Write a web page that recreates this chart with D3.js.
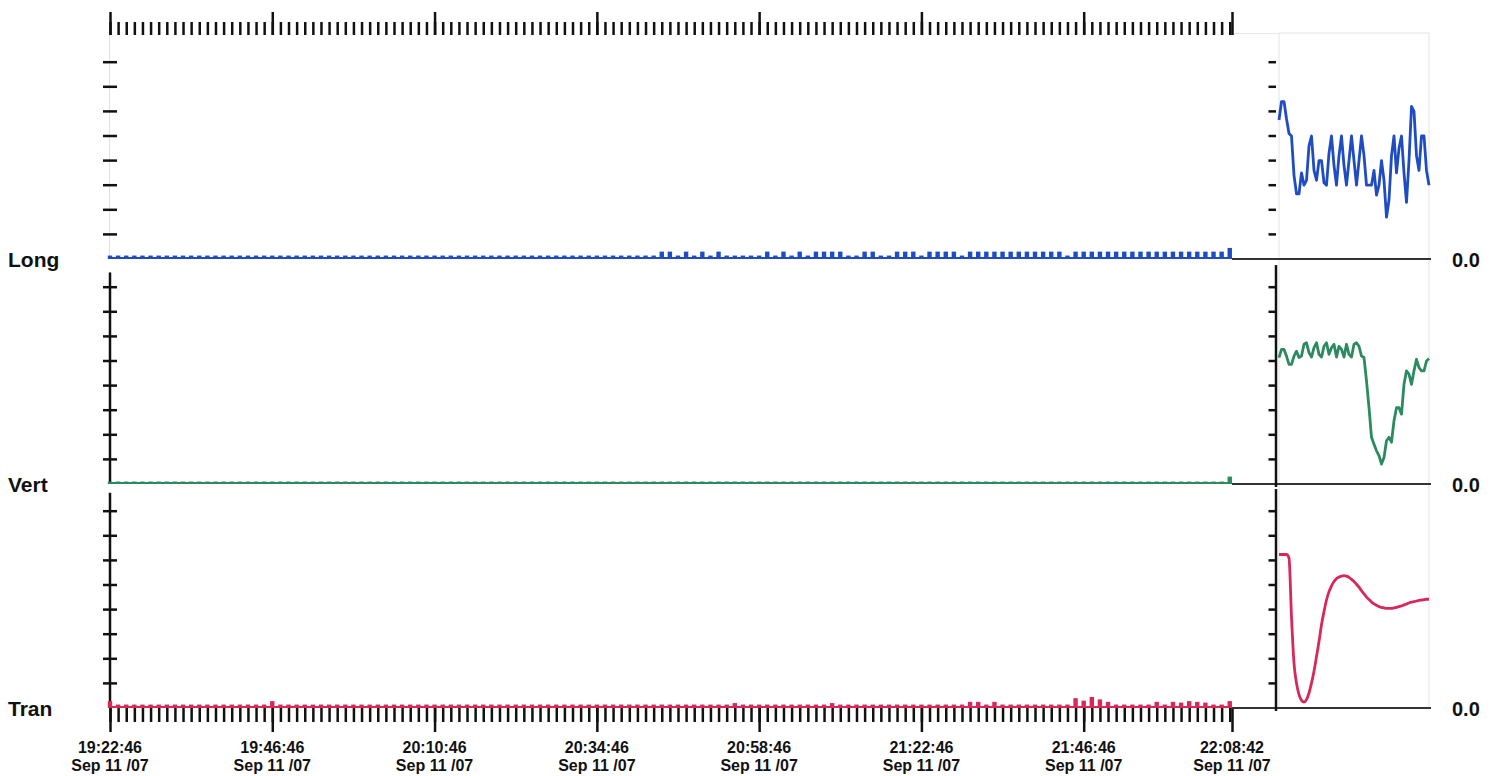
<!DOCTYPE html>
<html><head><meta charset="utf-8">
<script src="https://cdn.jsdelivr.net/npm/d3@7"></script>
<style>
body{margin:0;background:#fff;}
svg{display:block;}
text{font-family:"Liberation Sans",Arial,sans-serif;font-weight:bold;fill:#111;}
</style>
</head><body>
<svg id="chart" width="1500" height="776"></svg>
<script>
// ---------- data ----------
const majorTimeLabels = ["19:22:46","19:46:46","20:10:46","20:34:46","20:58:46","21:22:46","21:46:46","22:08:42"];
const dateLabel = "Sep 11 /07";
const seriesNames = ["Long","Vert","Tran"];
const seriesColors = ["#1f4cc2","#2b8a60","#d8285a"];
const zeroLabel = "0.0";
const barIntervalSeconds = 72;
const yTickValues = [1,2,3,4,5,6,7,8];

const longBars = [
0.14,0.14,0.14,0.14,0.14,0.14,0.14,0.14,0.14,0.14,0.14,0.14,0.14,0.14,0.14,0.14,0.14,0.14,0.14,0.14,
0.14,0.14,0.14,0.14,0.14,0.14,0.14,0.14,0.14,0.14,0.14,0.14,0.14,0.14,0.14,0.14,0.14,0.14,0.14,0.14,
0.14,0.14,0.14,0.14,0.14,0.14,0.14,0.14,0.14,0.14,0.14,0.14,0.14,0.14,0.14,0.14,0.14,0.14,0.14,0.14,
0.14,0.14,0.14,0.14,0.14,0.14,0.14,0.14,0.3,0.3,0.14,0.3,0.14,0.3,0.14,0.3,0.14,0.14,0.14,0.14,
0.14,0.3,0.14,0.3,0.14,0.3,0.14,0.3,0.3,0.3,0.3,0.14,0.14,0.3,0.3,0.14,0.14,0.3,0.3,0.3,
0.14,0.3,0.3,0.3,0.3,0.14,0.3,0.3,0.3,0.3,0.3,0.3,0.3,0.3,0.3,0.3,0.3,0.3,0.14,0.3,
0.3,0.3,0.3,0.3,0.3,0.3,0.3,0.3,0.3,0.3,0.3,0.3,0.3,0.3,0.3,0.3,0.3,0.3,0.45];

const vertBars = [
0.1,0.1,0.1,0.1,0.1,0.1,0.1,0.1,0.1,0.1,0.1,0.1,0.1,0.1,0.1,0.1,0.1,0.1,0.1,0.1,
0.1,0.1,0.1,0.1,0.1,0.1,0.1,0.1,0.1,0.1,0.1,0.1,0.1,0.1,0.1,0.1,0.1,0.1,0.1,0.1,
0.1,0.1,0.1,0.1,0.1,0.1,0.1,0.1,0.1,0.1,0.1,0.1,0.1,0.1,0.1,0.1,0.1,0.1,0.1,0.1,
0.1,0.1,0.1,0.1,0.1,0.1,0.1,0.1,0.1,0.1,0.1,0.1,0.1,0.1,0.1,0.1,0.1,0.1,0.1,0.1,
0.1,0.1,0.1,0.1,0.1,0.1,0.1,0.1,0.1,0.1,0.1,0.1,0.1,0.1,0.1,0.1,0.1,0.1,0.1,0.1,
0.1,0.1,0.1,0.1,0.1,0.1,0.1,0.1,0.1,0.1,0.1,0.1,0.1,0.1,0.1,0.1,0.1,0.1,0.1,0.1,
0.1,0.1,0.1,0.1,0.1,0.1,0.1,0.1,0.1,0.1,0.1,0.1,0.1,0.1,0.1,0.1,0.1,0.1,0.3];

const tranBars = [
0.28,0.14,0.14,0.14,0.14,0.14,0.14,0.14,0.14,0.14,0.14,0.14,0.14,0.14,0.14,0.14,0.14,0.14,0.14,0.14,
0.28,0.14,0.14,0.14,0.14,0.14,0.14,0.14,0.14,0.14,0.14,0.14,0.14,0.14,0.14,0.14,0.14,0.14,0.14,0.14,
0.14,0.14,0.14,0.14,0.14,0.14,0.14,0.14,0.14,0.14,0.14,0.14,0.14,0.14,0.14,0.14,0.14,0.14,0.14,0.14,
0.14,0.14,0.14,0.14,0.14,0.14,0.14,0.14,0.14,0.14,0.14,0.14,0.14,0.14,0.14,0.14,0.14,0.2,0.14,0.14,
0.14,0.14,0.14,0.14,0.14,0.14,0.14,0.14,0.14,0.2,0.14,0.14,0.14,0.14,0.14,0.14,0.14,0.14,0.14,0.14,
0.14,0.14,0.14,0.14,0.14,0.14,0.25,0.25,0.14,0.25,0.14,0.14,0.14,0.14,0.14,0.14,0.14,0.14,0.14,0.4,
0.3,0.45,0.35,0.25,0.14,0.14,0.14,0.14,0.14,0.25,0.14,0.25,0.22,0.28,0.25,0.22,0.14,0.14,0.28];

const longDetail = [5.65,6.4,6.4,5.7,5.1,5.0,3.4,2.65,2.65,3.5,3.0,3.2,4.6,5.0,3.6,3.2,4.0,4.0,3.1,3.0,
4.3,5.0,3.8,3.0,4.2,5.0,3.8,3.0,4.0,5.0,4.0,3.0,4.0,5.0,4.2,3.0,3.0,3.0,3.6,2.6,
3.0,4.0,3.2,1.7,2.4,4.2,5.0,3.5,4.5,5.0,3.5,2.3,4.0,6.2,6.0,4.2,3.6,5.0,5.0,3.6,3.0];

const vertDetail = [5.14,5.47,5.47,5.2,4.86,4.86,5.2,5.4,5.14,5.2,5.68,5.74,5.34,5.16,5.54,5.74,5.27,5.16,5.6,5.74,
5.27,5.54,5.68,5.16,5.6,5.47,5.16,5.68,5.27,5.16,5.68,5.74,5.6,5.2,5.14,4.19,3.1,1.9,1.62,1.35,
1.15,0.81,1.08,1.76,1.9,1.7,2.57,3.1,3.1,2.84,4.05,4.6,4.46,4.05,4.6,5.07,4.73,4.6,4.6,5.0,5.1];

const tranDetail = [6.24,6.24,6.24,6.24,6.1,3.7,1.82,1.01,0.54,0.31,0.24,0.34,0.61,1.01,1.49,2.09,2.7,3.38,3.92,4.39,
4.73,4.96,5.14,5.26,5.32,5.36,5.38,5.36,5.31,5.23,5.14,5.03,4.91,4.77,4.64,4.51,4.41,4.31,4.23,4.18,
4.12,4.09,4.07,4.05,4.05,4.05,4.07,4.09,4.12,4.15,4.19,4.23,4.27,4.3,4.32,4.35,4.38,4.39,4.41,4.42,4.42];

// ---------- layout ----------
const svg = d3.select("#chart");
const parse = d3.timeParse("%H:%M:%S");
const majorDates = majorTimeLabels.map(parse);
const tStart = majorDates[0], tEnd = majorDates[majorDates.length-1];
const totalSec = (tEnd - tStart)/1000;
const minorDates = d3.range(0, totalSec, barIntervalSeconds).map(s => d3.timeSecond.offset(tStart, s));

const x = d3.scaleTime().domain([tStart, tEnd]).range([110, 1232]);
const xd = d3.scaleLinear().domain([0, longDetail.length-1]).range([1279, 1429]);
const bases = [259, 484, 708];
const unit = 24.6;
const yScales = bases.map(b => d3.scaleLinear().domain([0, 9]).range([b, b - 9*unit]));
const barsData = [longBars, vertBars, tranBars];
const detailData = [longDetail, vertDetail, tranDetail];

// right panel frame
svg.append("rect").attr("x",1279).attr("y",33).attr("width",150).attr("height",675)
  .attr("fill","none").attr("stroke","#e4e4e4").attr("stroke-width",1);
svg.append("line").attr("x1",1232).attr("x2",1279).attr("y1",33.5).attr("y2",33.5)
  .attr("stroke","#e8e8e8");
svg.append("line").attr("x1",109.5).attr("x2",109.5).attr("y1",35).attr("y2",259)
  .attr("stroke","#e0e0e0").attr("stroke-width",1);

// top axis
const topMinor = d3.axisTop(x).tickValues(minorDates).tickSize(13).tickFormat("").tickSizeOuter(0);
const topMajor = d3.axisTop(x).tickValues(majorDates).tickSize(23).tickFormat("").tickSizeOuter(0);
[topMinor, topMajor].forEach(ax => {
  const g = svg.append("g").attr("transform","translate(0,35)").call(ax);
  g.select(".domain").remove();
  g.selectAll("line").attr("stroke","#111").attr("stroke-width",2.5);
});

// bottom axis
const botMinor = d3.axisBottom(x).tickValues(minorDates).tickSize(14).tickFormat("").tickSizeOuter(0);
const botMajor = d3.axisBottom(x).tickValues(majorDates).tickSize(24).tickFormat("").tickSizeOuter(0);
[botMinor, botMajor].forEach(ax => {
  const g = svg.append("g").attr("transform","translate(0,708)").call(ax);
  g.select(".domain").remove();
  g.selectAll("line").attr("stroke","#111").attr("stroke-width",2.5);
});
majorDates.forEach((d,i) => {
  svg.append("text").attr("x", x(d)).attr("y", 753).attr("text-anchor","middle")
    .attr("font-size",16).text(majorTimeLabels[i]);
  svg.append("text").attr("x", x(d)).attr("y", 771).attr("text-anchor","middle")
    .attr("font-size",16).text(dateLabel);
});

// panels
seriesNames.forEach((name, p) => {
  const y = yScales[p], base = bases[p], col = seriesColors[p];
  svg.append("line").attr("x1",1232).attr("x2",1431).attr("y1",base).attr("y2",base)
    .attr("stroke","#333").attr("stroke-width",2);
  if (p > 0) {
    svg.append("line").attr("x1",110).attr("x2",110).attr("y1", y(p===1?8.6:8.75)).attr("y2", base)
      .attr("stroke","#111").attr("stroke-width",2.5);
    svg.append("line").attr("x1",1276).attr("x2",1276).attr("y1", y(8.9)).attr("y2", base+3)
      .attr("stroke","#111").attr("stroke-width",2.5);
  }
  svg.append("g").selectAll("line").data(yTickValues).join("line")
    .attr("x1",103).attr("x2",117).attr("y1",d=>y(d)).attr("y2",d=>y(d))
    .attr("stroke","#111").attr("stroke-width",2.5);
  svg.append("g").selectAll("line").data(yTickValues).join("line")
    .attr("x1",1268.5).attr("x2",1276).attr("y1",d=>y(d)).attr("y2",d=>y(d))
    .attr("stroke","#111").attr("stroke-width",2.5);
  svg.append("line").attr("x1",108).attr("x2",1232).attr("y1",base-1).attr("y2",base-1)
    .attr("stroke",col).attr("stroke-width",2.2);
  svg.append("g").selectAll("rect").data(barsData[p]).join("rect")
    .attr("x",(d,i)=> x(d3.timeSecond.offset(tStart, i*barIntervalSeconds)) - 2.2)
    .attr("width",4.4)
    .attr("y", d => y(d))
    .attr("height", d => base - y(d))
    .attr("fill", col);
  const line = d3.line().x((d,i)=>xd(i)).y(d=>y(d))
    .curve(p===2 ? d3.curveMonotoneX : d3.curveLinear);
  svg.append("path").datum(detailData[p]).attr("d", line)
    .attr("fill","none").attr("stroke",col).attr("stroke-width",2.8).attr("stroke-linejoin","round");
  svg.append("text").attr("x",8).attr("y",base+8).attr("font-size",21).text(name);
  svg.append("text").attr("x",1452).attr("y",base+8).attr("font-size",20).text(zeroLabel);
});
</script>
</body></html>
